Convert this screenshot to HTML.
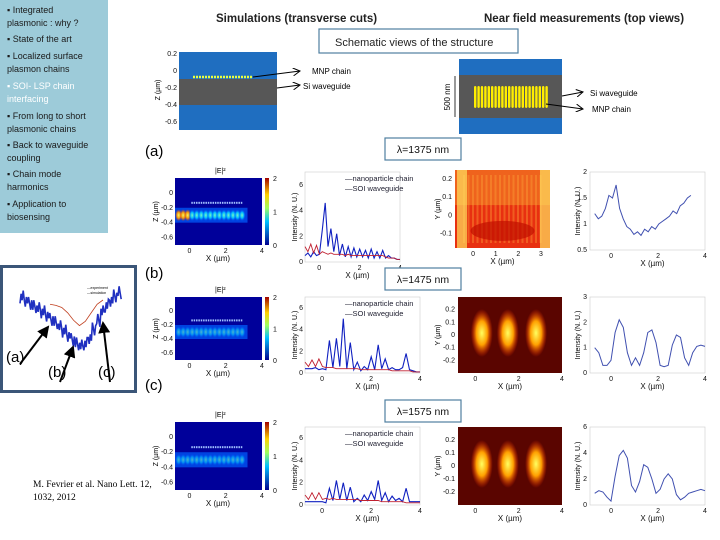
<!DOCTYPE html>
<html><head><meta charset="utf-8"><style>
body{margin:0;width:720px;height:540px;overflow:hidden;background:#fff;font-family:"Liberation Sans",sans-serif}
svg{display:block}
</style></head><body>
<svg id="s" width="720" height="540" viewBox="0 0 720 540" xmlns="http://www.w3.org/2000/svg" font-family="Liberation Sans, sans-serif">
<defs>
<linearGradient id="cbar" x1="0" y1="1" x2="0" y2="0"><stop offset="0" stop-color="#00008f"/><stop offset="0.35" stop-color="#00c0ff"/><stop offset="0.55" stop-color="#a0ff60"/><stop offset="0.75" stop-color="#ffd000"/><stop offset="1" stop-color="#a00000"/></linearGradient>
<radialGradient id="blob" cx="0.5" cy="0.5" r="0.5"><stop offset="0" stop-color="#ffff60"/><stop offset="0.5" stop-color="#ffa000"/><stop offset="1" stop-color="#ff3000" stop-opacity="0"/></radialGradient>
<radialGradient id="cyan" cx="0.5" cy="0.5" r="0.5"><stop offset="0" stop-color="#80ffc0"/><stop offset="0.5" stop-color="#00c0ff"/><stop offset="1" stop-color="#0040ff" stop-opacity="0"/></radialGradient>
<marker id="ar" markerWidth="8" markerHeight="8" refX="7" refY="4" orient="auto"><path d="M0,0 L7,4 L0,8" fill="none" stroke="#000" stroke-width="1"/></marker>
<marker id="arf" markerWidth="6" markerHeight="6" refX="5" refY="3" orient="auto"><path d="M0,0 L6,3 L0,6z" fill="#000"/></marker>
</defs>

<rect x="0" y="0" width="108" height="233" fill="#9dcbd9"/>
<g font-size="9" fill="#1a1a1a">
<text x="7" y="13">▪ Integrated</text><text x="7" y="26">plasmonic : why ?</text>
<text x="7" y="42">▪ State of the art</text>
<text x="7" y="59">▪ Localized surface</text><text x="7" y="72">plasmon chains</text>
<text x="7" y="89" fill="#fff">▪ SOI- LSP chain</text><text x="7" y="102" fill="#fff">interfacing</text>
<text x="7" y="119">▪ From long to short</text><text x="7" y="132">plasmonic chains</text>
<text x="7" y="148">▪ Back to waveguide</text><text x="7" y="161">coupling</text>
<text x="7" y="177">▪  Chain  mode</text><text x="7" y="190">harmonics</text>
<text x="7" y="207">▪ Application to</text><text x="7" y="220">biosensing</text>
</g>

<rect x="1.5" y="266.5" width="134" height="125" fill="#fff" stroke="#3b5678" stroke-width="3"/>
<g id="inset"></g>
<g font-size="15" fill="#000">
<text x="6" y="362">(a)</text>
<text x="48" y="377">(b)</text>
<text x="98" y="377">(c)</text>
</g>
<text x="33" y="487" font-family="Liberation Serif, serif" font-size="9.5">M. Fevrier et al. Nano Lett. 12,</text>
<text x="33" y="500" font-family="Liberation Serif, serif" font-size="9.5">1032, 2012</text>

<text x="216" y="22" font-size="11.5" font-weight="bold" fill="#222">Simulations (transverse cuts)</text>
<text x="484" y="22" font-size="11.5" font-weight="bold" fill="#222">Near field measurements (top views)</text>
<rect x="319" y="29" width="199" height="24" fill="#fff" stroke="#4f7fa0" stroke-width="1.2"/>
<text x="335" y="46" font-size="11" fill="#222">Schematic views of the structure</text>

<g>
<rect x="179" y="52" width="98" height="78" fill="#1f6ec0"/>
<rect x="179" y="79" width="98" height="26" fill="#575757"/>
<line x1="193" y1="77" x2="253" y2="77" stroke="#e8ff40" stroke-width="2.5" stroke-dasharray="2,1"/>
<g font-size="7" fill="#111" text-anchor="end"><text x="177" y="56">0.2</text><text x="177" y="73">0</text><text x="177" y="90">-0.2</text><text x="177" y="107">-0.4</text><text x="177" y="124">-0.6</text></g>
<text x="160" y="90" font-size="7" transform="rotate(-90 160 90)" text-anchor="middle">Z (µm)</text>
<line x1="253" y1="77" x2="300" y2="71" stroke="#000" marker-end="url(#ar)"/>
<line x1="277" y1="88" x2="300" y2="85" stroke="#000" marker-end="url(#ar)"/>
<text x="312" y="74" font-size="8">MNP chain</text><text x="303" y="89" font-size="8">Si waveguide</text>
</g>
<g>
<rect x="459" y="59" width="103" height="75" fill="#1f6ec0"/>
<rect x="459" y="75" width="103" height="43" fill="#575757"/>
<g id="npdots"></g>
<line x1="455" y1="76" x2="455" y2="117" stroke="#000" stroke-width="0.8"/>
<text x="450" y="97" font-size="8" transform="rotate(-90 450 97)" text-anchor="middle">500 nm</text>
<line x1="562" y1="96" x2="583" y2="92" stroke="#000" marker-end="url(#ar)"/>
<line x1="546" y1="104" x2="583" y2="109" stroke="#000" marker-end="url(#ar)"/>
<text x="590" y="96" font-size="8">Si waveguide</text><text x="592" y="112" font-size="8">MNP chain</text>
</g>

<text x="145" y="156" font-size="15">(a)</text>
<text x="145" y="278" font-size="15">(b)</text>
<text x="145" y="390" font-size="15">(c)</text>
<g id="rows"></g>
</svg>
<script>
const NS='http://www.w3.org/2000/svg';
function mk(p,t,a,txt){const e=document.createElementNS(NS,t);for(const k in a)e.setAttribute(k,a[k]);if(txt!==undefined)e.textContent=txt;p.appendChild(e);return e;}
function lin(d0,d1,r0,r1){return v=>r0+(v-d0)*(r1-r0)/(d1-d0);}

const wavelengths=['λ=1375 nm','λ=1475 nm','λ=1575 nm'];
const chainR1=[0.5,0.7,0.4,0.8,0.5,0.6,2.5,4.6,1.2,2.6,0.8,2.2,0.5,1.4,0.4,1.2,0.4,1.1,0.4,1.0,0.4,0.9,0.3,1.0,0.3,0.8,0.3,0.9,0.3,0.5,0.3,0.3,0.2,0.2];
const chainR2=[0.4,0.4,0.4,0.5,0.3,0.4,0.3,3.0,0.5,3.2,0.6,5.0,0.4,2.8,0.3,1.0,0.2,0.6,0.3,1.5,0.3,2.6,0.4,1.3,0.3,0.5,0.3,0.3,0.5,1.8,0.3,0.2,0.1,0.1];
const chainR3=[0.3,0.3,0.3,0.3,0.3,0.3,0.2,1.5,0.4,2.2,0.5,2.0,0.4,1.6,0.3,0.6,0.3,0.9,0.4,1.2,0.5,2.2,0.4,1.1,0.3,0.8,0.4,0.6,0.3,1.5,0.3,0.3,0.3,0.3];
const soiR1=[1.2,0.8,1.4,0.7,1.3,0.6,0.8,0.7,0.6,0.7,0.6,0.6,0.6,0.6,0.5,0.6,0.5,0.5,0.5,0.5,0.5,0.5,0.5,0.5,0.5,0.5,0.5,0.5,0.4,0.3,0.3,0.3,0.2,0.2];
const soiR2=[1.0,0.6,1.2,0.6,1.3,0.6,0.5,0.5,0.5,0.4,0.4,0.4,0.4,0.4,0.4,0.4,0.3,0.3,0.3,0.3,0.3,0.3,0.3,0.3,0.3,0.2,0.2,0.2,0.2,0.2,0.2,0.1,0.1,0.1];
const soiR3=[0.9,0.5,1.1,0.5,1.1,0.5,0.6,0.5,0.6,0.5,0.5,0.5,0.5,0.5,0.5,0.5,0.4,0.4,0.4,0.4,0.4,0.4,0.3,0.3,0.3,0.3,0.3,0.3,0.3,0.2,0.2,0.2,0.2,0.2];
const profR1=[1.2,1.1,1.15,1.3,1.55,1.5,1.75,1.3,1.1,0.95,0.9,0.8,0.85,0.78,0.9,0.85,0.95,0.9,1.0,1.05,1.1,1.15,1.25,1.2,1.35,1.4,1.5,1.55];
const profR2=[1.0,0.8,0.3,0.3,0.5,1.6,2.1,1.8,0.8,0.3,0.6,0.3,0.8,1.6,1.7,1.2,0.3,0.25,0.3,1.1,1.5,1.4,0.6,0.3,0.8,1.05,1.1,1.05];
const profR3=[0.9,1.1,1.0,0.6,0.3,2.2,3.8,4.2,3.6,1.5,1.0,1.8,3.1,2.9,2.0,0.9,1.2,2.0,2.4,2.0,0.8,0.4,0.6,0.9,1.0,1.1,1.2,1.1];
const profMax=[2,3,6];
const profTicks=[['0.5','1','1.5','2'],['0','1','2','3'],['0','2','4','6']];
const insetExp=[-10.6,-10.9,-11.2,-11.5,-11.7,-12.0,-12.3,-12.7,-13.0,-13.4,-13.8,-14.2,-14.6,-15.0,-15.2,-15.0,-14.4,-13.6,-12.8,-12.0,-11.4,-10.9,-10.5,-10.2];
const insetSim=[-11.0,-11.1,-11.3,-11.8,-12.5,-13.0,-12.6,-11.8,-11.0,-10.6];

const root=document.getElementById('s');

const nd=document.getElementById('npdots');
for(let i=0;i<22;i++){const d=mk(nd,'rect',{x:474+i*3.4,y:86,width:2.4,height:22,rx:1.2,fill:'#ffee00'});

}

(function(){
 const g=document.getElementById('inset');
 const X=lin(0,insetExp.length-1,20,118),Y=lin(-10.6,-15.2,297,346);
 let d='';insetExp.forEach((v,i)=>{for(let k=0;k<4;k++){const xi=i+k/4;const jit=((i*7+k*3)%5-2)*0.3;d+=(d?'L':'M')+X(xi).toFixed(1)+','+Y(v+jit).toFixed(1);}});
 const p=mk(g,'path',{d:d,fill:'none',stroke:'#2030c0','stroke-width':1.6});
 
 const Xs=lin(0,insetSim.length-1,50,103);
 const ps=mk(g,'polyline',{points:insetSim.map((v,i)=>Xs(i)+','+(Y(v)+3)).join(' '),fill:'none',stroke:'#c04020','stroke-width':0.8});
 
 mk(g,'text',{x:87,y:289,'font-size':3.5},'—experiment');mk(g,'text',{x:87,y:294,'font-size':3.5},'—simulation');
 mk(g,'g',{});
 [[20,364,48,327],[60,382,73,347],[110,382,103,323]].forEach(a=>{mk(g,'line',{x1:a[0],y1:a[1],x2:a[2],y2:a[3],stroke:'#000','stroke-width':2,'marker-end':'url(#arf)'});});
})();

const rowsY=[[172,262,178,245],[297,373,297,360],[427,505,422,490]];
const lamY=[138,268,400];
const chains=[chainR1,chainR2,chainR3],sois=[soiR1,soiR2,soiR3],profs=[profR1,profR2,profR3];
const rg=document.getElementById('rows');
function axisText(g,x,y,t,anchor,size){return mk(g,'text',{x:x,y:y,'font-size':size||7,'text-anchor':anchor||'middle',fill:'#111'},t);}

for(let r=0;r<3;r++){
 const g=mk(rg,'g',{});
 
 
 const [t,b,ht,hb]=rowsY[r];
 const lb=mk(g,'rect',{x:385,y:lamY[r],width:76,height:22,fill:'#fff',stroke:'#4f7fa0','stroke-width':1.2});
 
 axisText(g,423,lamY[r]+15,wavelengths[r],'middle',10.5);
 const hx0=175,hx1=262;
 mk(g,'text',{x:215,y:ht-5,'font-size':7},'|E|²');
 const hm=mk(g,'rect',{x:hx0,y:ht,width:hx1-hx0,height:hb-ht,fill:'#00009a'});
 
 const hxs=lin(-0.8,4,hx0,hx1),hys=lin(0.2,-0.7,ht,hb);
 mk(g,'rect',{x:hxs(-0.8),y:hys(-0.2),width:hxs(3.2)-hxs(-0.8),height:hys(-0.4)-hys(-0.2),fill:'#0060ff',opacity:0.7});
 for(let i=0;i<15;i++){mk(g,'ellipse',{cx:hxs(-0.6+i*0.25),cy:hys(-0.3),rx:3.5,ry:6,fill:r===0&&i<3?'url(#blob)':'url(#cyan)',opacity:r===0?0.95:0.6});}
 for(let i=0;i<22;i++){mk(g,'rect',{x:hxs(0.1+i*0.13),y:hys(-0.12),width:1.5,height:2,fill:'#a0c0ff'});}
 mk(g,'rect',{x:265,y:ht,width:4,height:hb-ht,fill:'url(#cbar)'});
 ['0','1','2'].forEach((l,i)=>axisText(g,273,hb-(hb-ht)*i/2+3,l,'start'));
 [['0',0],['-0.2',-0.2],['-0.4',-0.4],['-0.6',-0.6]].forEach(a=>axisText(g,hx0-2,hys(a[1])+2,a[0],'end'));
 [['0',0],['2',2],['4',4]].forEach(a=>axisText(g,hxs(a[1]),hb+8,a[0]));
 axisText(g,218,hb+16,'X (µm)','middle',8);
 mk(g,'text',{x:158,y:(ht+hb)/2,'font-size':7,transform:`rotate(-90 158 ${(ht+hb)/2})`,'text-anchor':'middle'},'Z (µm)');

 const lx0=305,lx1=r===0?400:420;
 const lxs=lin(-0.7,4,lx0,lx1),lys=lin(0,7,b,t);
 mk(g,'rect',{x:lx0,y:t,width:lx1-lx0,height:b-t,fill:'#fff',stroke:'#ccc','stroke-width':0.6});
 const n=chains[r].length;
 const xAt=i=>lxs(-0.7+4.7*i/(n-1));
 const cl=mk(g,'polyline',{points:chains[r].map((v,i)=>xAt(i).toFixed(1)+','+lys(v).toFixed(1)).join(' '),fill:'none',stroke:'#1020c0','stroke-width':1.1});
 
 const sl=mk(g,'polyline',{points:sois[r].map((v,i)=>xAt(i).toFixed(1)+','+lys(v).toFixed(1)).join(' '),fill:'none',stroke:'#c02030','stroke-width':0.9});
 
 axisText(g,345,t+9,'—nanoparticle chain','start',7.5).setAttribute('fill','#223');
 axisText(g,345,t+19,'—SOI waveguide','start',7.5).setAttribute('fill','#223');
 [['0',0],['2',2],['4',4],['6',6]].forEach(a=>axisText(g,lx0-2,lys(a[1])+2,a[0],'end'));
 [['0',0],['2',2],['4',4]].forEach(a=>axisText(g,lxs(a[1]),b+8,a[0]));
 axisText(g,(lx0+lx1)/2+5,b+16,'X (µm)','middle',8);
 mk(g,'text',{x:297,y:(t+b)/2,'font-size':7,transform:`rotate(-90 297 ${(t+b)/2})`,'text-anchor':'middle'},'Intensity (N. U.)');

 const nx0=r===0?455:458,nx1=r===0?550:562,nt=r===0?170:t,nb=r===0?248:b;
 const nf=mk(g,'rect',{x:nx0,y:nt,width:nx1-nx0,height:nb-nt,fill:r===0?'#e83010':'#5a0500'});
 
 const nxs=lin(-0.8,r===0?3.4:4,nx0,nx1);
 if(r===0){
  mk(g,'rect',{x:nx0,y:nt,width:nx1-nx0,height:(nb-nt)*0.45,fill:'#f07020',opacity:0.8});
  for(let i=0;i<18;i++)mk(g,'rect',{x:nx0+8+i*4.5,y:nt+5,width:2,height:nb-nt-10,fill:'#ffb040',opacity:0.35});
  mk(g,'rect',{x:nx0+2,y:nt,width:10,height:nb-nt,fill:'#ffe060',opacity:0.7});
  mk(g,'rect',{x:nx1-10,y:nt,width:10,height:nb-nt,fill:'#ffe060',opacity:0.7});
  mk(g,'ellipse',{cx:(nx0+nx1)/2,cy:nt+(nb-nt)*0.78,rx:32,ry:10,fill:'#c01000',opacity:0.7});
 } else {
  [0.3,1.5,2.8].forEach(c=>{mk(g,'ellipse',{cx:nxs(c),cy:(nt+nb)/2-2,rx:11,ry:24,fill:'url(#blob)'});});
 }
 const yl=r===0?[['0.2',0.2],['0.1',0.1],['0',0],['-0.1',-0.1]]:[['0.2',0.2],['0.1',0.1],['0',0],['-0.1',-0.1],['-0.2',-0.2]];
 const nys=r===0?lin(0.25,-0.18,nt,nb):lin(0.3,-0.3,nt,nb);
 yl.forEach(a=>axisText(g,nx0-3,nys(a[1])+2,a[0],'end'));
 (r===0?[['0',0],['1',1],['2',2],['3',3]]:[['0',0],['2',2],['4',4]]).forEach(a=>axisText(g,nxs(a[1]),nb+8,a[0]));
 axisText(g,(nx0+nx1)/2,nb+16,'X (µm)','middle',8);
 mk(g,'text',{x:440,y:(nt+nb)/2,'font-size':7,transform:`rotate(-90 440 ${(nt+nb)/2})`,'text-anchor':'middle'},'Y (µm)');

 const px0=590,px1=705,pt=r===0?172:t,pb=r===0?250:b;
 mk(g,'rect',{x:px0,y:pt,width:px1-px0,height:pb-pt,fill:'#fff',stroke:'#ccc','stroke-width':0.6});
 const pxs=lin(-0.9,4,px0,px1),pys=r===0?lin(0.5,2,pb,pt):lin(0,profMax[r],pb,pt);
 const pr=profs[r],pn=pr.length;
 const xEnd=r===0?3.4:4;
 const pl=mk(g,'polyline',{points:pr.map((v,i)=>pxs(-0.7+(xEnd+0.7)*i/(pn-1)).toFixed(1)+','+pys(v).toFixed(1)).join(' '),fill:'none',stroke:'#4050b0','stroke-width':1});
 
 profTicks[r].forEach((l,i)=>axisText(g,px0-3,pb-(pb-pt)*i/3+2,l,'end'));
 [['0',0],['2',2],['4',4]].forEach(a=>axisText(g,pxs(a[1]),pb+8,a[0]));
 axisText(g,(px0+px1)/2+5,pb+16,'X (µm)','middle',8);
 mk(g,'text',{x:580,y:(pt+pb)/2,'font-size':7,transform:`rotate(-90 580 ${(pt+pb)/2})`,'text-anchor':'middle'},'Intensity (N. U.)');
}
</script>
</body></html>
